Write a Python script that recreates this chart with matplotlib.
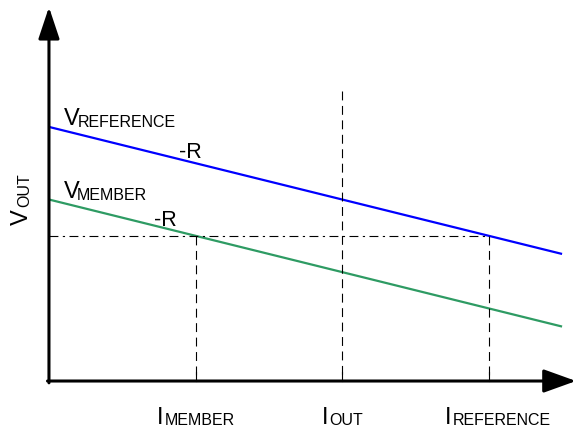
import matplotlib
matplotlib.use("Agg")
import matplotlib.pyplot as plt

plt.rcParams['font.family'] = ['Liberation Sans', 'DejaVu Sans']

# droop characteristic, arbitrary units
i_line = [0.0, 3.5]
v_reference = [7.0, 3.5]   # V_REF - R*I
v_member = [5.0, 1.5]      # V_MEM - R*I
v_level = 4.0              # common output voltage
i_member = 1.0
i_out = 2.0
i_reference = 3.0
i_out_top = 8.0

fig = plt.figure(figsize=(5.76, 4.29), dpi=100)
ax = fig.add_axes([0, 0, 1, 1])
ax.set_xlim(-0.334, 3.595)
ax.set_ylim(-1.322, 10.496)
ax.axis('off')

# axes with arrows
ax.annotate('', xy=(3.595, 0), xytext=(-0.01, 0),
            arrowprops=dict(arrowstyle='-|>,head_length=2.0,head_width=0.72',
                            lw=2.2, color='black', mutation_scale=10,
                            shrinkA=0, shrinkB=0))
ax.annotate('', xy=(0, 10.3), xytext=(0, -0.05),
            arrowprops=dict(arrowstyle='-|>,head_length=1.95,head_width=0.65',
                            lw=2.2, color='black', mutation_scale=10,
                            shrinkA=0, shrinkB=0))

# characteristic lines
ax.plot(i_line, v_reference, color='#0000FF', lw=1.6, solid_capstyle='butt')
ax.plot(i_line, v_member, color='#2E9B63', lw=1.6, solid_capstyle='butt')

# guide lines
ax.plot([0, i_reference], [v_level, v_level], color='black', lw=0.8,
        linestyle=(0, (8, 4, 2, 4)))
dash = (0, (8, 5))
ax.plot([i_member, i_member], [v_level, 0], color='black', lw=0.8, linestyle=dash)
ax.plot([i_out, i_out], [i_out_top, 0], color='black', lw=0.8, linestyle=dash)
ax.plot([i_reference, i_reference], [v_level, 0], color='black', lw=0.8, linestyle=dash)
for x in [i_member, i_out, i_reference]:
    ax.plot([x, x], [0, 0.25], color='black', lw=0.8)

big = 17
small = 11.5

def label(x, y, main, sub, dx, dy=-0.04, rot=0):
    if rot:
        ax.text(x, y, main, fontsize=big, rotation=90, rotation_mode='anchor',
                ha='left', va='baseline')
        ax.text(x + dy * 0.3, y + dx, sub, fontsize=small, rotation=90,
                rotation_mode='anchor', ha='left', va='baseline')
    else:
        ax.text(x, y, main, fontsize=big, ha='left', va='baseline')
        ax.text(x + dx, y + dy, sub, fontsize=small, ha='left', va='baseline')

label(0.10, 7.05, 'V', 'REFERENCE', 0.097)
label(0.10, 5.04, 'V', 'MEMBER', 0.088)
ax.text(0.885, 6.14, '-R', fontsize=15.5, ha='left', va='baseline')
ax.text(0.715, 4.27, '-R', fontsize=15.5, ha='left', va='baseline')
label(-0.143, 4.30, 'V', 'OUT', 0.48, dy=0.02, rot=90)

label(0.735, -1.18, 'I', 'MEMBER', 0.055, dy=-0.03)
label(1.86, -1.18, 'I', 'OUT', 0.055, dy=-0.03)
label(2.699, -1.18, 'I', 'REFERENCE', 0.055, dy=-0.03)

fig.savefig('out.png', dpi=100)
